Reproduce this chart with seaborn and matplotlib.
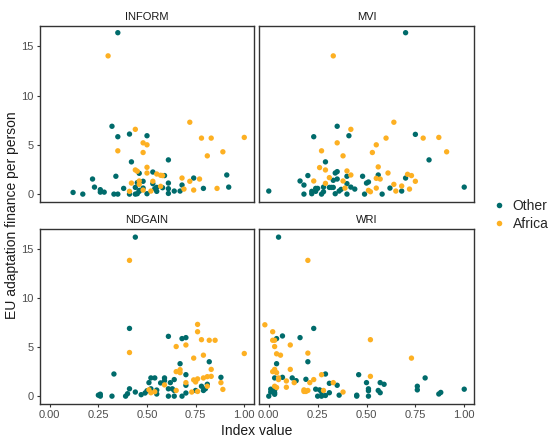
import matplotlib
matplotlib.use('Agg')
import matplotlib.pyplot as plt
from matplotlib.lines import Line2D
import seaborn as sns
import pandas as pd

sns.set_style('white')
plt.rcParams['font.family'] = ['Liberation Sans', 'DejaVu Sans']

# values, one pair of lists per panel and group
inform_other_x = [0.35, 0.32, 0.35, 0.41, 0.50, 0.61, 0.42, 0.46, 0.53, 0.59, 0.34, 0.22,
                  0.74, 0.91, 0.48, 0.45, 0.53, 0.61, 0.68, 0.23, 0.26, 0.26, 0.28, 0.38,
                  0.44, 0.48, 0.54, 0.55, 0.58, 0.61, 0.79, 0.92, 0.46, 0.55, 0.61, 0.64,
                  0.67, 0.12, 0.17, 0.33, 0.35, 0.41, 0.44, 0.45, 0.50, 0.46]
inform_other_y = [16.37, 6.88, 5.82, 6.09, 5.92, 3.47, 3.27, 2.11, 2.24, 1.88, 1.81, 1.53,
                  1.63, 1.94, 1.30, 1.16, 1.06, 1.12, 0.92, 0.71, 0.45, 0.20, 0.20, 0.58,
                  0.68, 0.61, 0.55, 0.68, 0.65, 0.55, 0.58, 0.71, 0.28, 0.28, 0.07, 0.31,
                  0.31, 0.17, 0.0, 0.0, 0.0, 0.0, 0.0, 0.04, 0.04, 0.38]
inform_africa_x = [0.30, 0.44, 0.72, 0.48, 0.50, 0.78, 0.83, 1.00, 0.35, 0.48, 0.81, 0.89,
                   0.50, 0.44, 0.45, 0.50, 0.55, 0.57, 0.58, 0.68, 0.77, 0.42, 0.46, 0.46,
                   0.53, 0.72, 0.57, 0.69, 0.86, 0.74, 0.41, 0.48, 0.52]
inform_africa_y = [14.02, 6.57, 7.29, 5.20, 5.00, 5.68, 5.68, 5.75, 4.39, 4.22, 3.88, 4.29,
                   2.72, 2.45, 2.32, 2.14, 2.04, 1.91, 1.88, 1.63, 1.53, 1.12, 1.33, 0.99,
                   1.30, 1.30, 0.79, 0.51, 0.58, 0.41, 0.28, 0.41, 0.31]

mvi_other_x = [0.70, 0.35, 0.23, 0.41, 0.75, 0.82, 0.29, 0.35, 0.34, 0.20, 0.40, 0.48,
               0.56, 0.70, 0.35, 0.33, 0.16, 0.40, 0.50, 0.51, 0.18, 0.28, 0.31, 0.32,
               0.33, 0.42, 0.44, 0.24, 0.25, 0.62, 1.00, 0.00, 0.22, 0.24, 0.28, 0.36,
               0.37, 0.68, 0.18, 0.22, 0.27, 0.34, 0.40, 0.49, 0.58]
mvi_other_y = [16.37, 6.88, 5.82, 5.92, 6.06, 3.47, 3.27, 2.28, 2.14, 1.88, 1.81, 1.81,
               1.94, 1.63, 1.53, 1.40, 1.33, 1.06, 1.12, 1.23, 0.92, 0.71, 0.68, 0.68,
               0.68, 0.71, 0.51, 0.58, 0.58, 0.61, 0.71, 0.31, 0.28, 0.28, 0.24, 0.31,
               0.48, 0.31, 0.0, 0.04, 0.0, 0.04, 0.0, 0.0, 0.0]
mvi_africa_x = [0.33, 0.42, 0.64, 0.35, 0.55, 0.60, 0.79, 0.87, 0.27, 0.53, 0.38, 0.91,
                0.56, 0.26, 0.29, 0.40, 0.61, 0.71, 0.73, 0.42, 0.31, 0.55, 0.57, 0.23,
                0.38, 0.75, 0.29, 0.64, 0.68, 0.39, 0.55, 0.72, 0.51, 0.52, 0.65]
mvi_africa_y = [14.02, 6.57, 7.29, 5.20, 5.00, 5.68, 5.68, 5.75, 4.39, 4.22, 3.88, 4.29,
                2.76, 2.69, 2.45, 2.35, 2.14, 2.01, 1.88, 1.94, 1.67, 1.60, 1.53, 1.33,
                1.33, 1.30, 1.09, 0.99, 0.82, 0.61, 0.61, 0.51, 0.38, 0.24, 0.31]

ndgain_other_x = [0.44, 0.41, 0.61, 0.68, 0.70, 0.82, 0.67, 0.33, 0.70, 0.52, 0.54, 0.59,
                  0.88, 0.64, 0.51, 0.57, 0.59, 0.62, 0.81, 0.78, 0.70, 0.63, 0.61, 0.41,
                  0.52, 0.50, 0.55, 0.55, 0.44, 0.47, 0.49, 0.40, 0.39, 0.25, 0.26, 0.26,
                  0.32, 0.61, 0.64, 0.68, 0.70, 0.75, 0.79, 0.80, 0.51, 0.64]
ndgain_other_y = [16.22, 6.91, 6.10, 5.87, 5.97, 3.51, 3.31, 2.26, 2.19, 1.86, 1.86, 1.86,
                  1.92, 1.69, 1.38, 1.35, 1.58, 1.38, 1.21, 1.01, 1.11, 0.75, 0.75, 0.75,
                  0.75, 0.55, 0.62, 0.22, 0.42, 0.15, 0.32, 0.25, 0.0, 0.10, 0.20, 0.0,
                  0.0, 0.0, 0.0, 0.0, 0.32, 0.58, 0.58, 0.75, 0.58, 0.58]
ndgain_africa_x = [0.41, 0.76, 0.76, 0.78, 0.82, 0.85, 0.65, 0.70, 0.41, 1.00, 0.79, 0.74,
                   0.83, 0.67, 0.65, 0.67, 0.81, 0.83, 0.79, 0.74, 0.76, 0.59, 0.70, 0.75,
                   0.88, 0.81, 0.65, 0.51, 0.52, 0.54, 0.73, 0.76, 0.89]
ndgain_africa_y = [13.85, 7.32, 6.57, 5.76, 5.70, 5.70, 5.06, 5.22, 4.45, 4.35, 4.18, 3.88,
                   2.73, 2.70, 2.50, 2.40, 1.99, 2.02, 1.86, 1.66, 1.76, 1.15, 1.38, 1.45,
                   1.38, 1.01, 0.58, 0.65, 0.35, 0.45, 0.42, 0.48, 0.69]

wri_other_x = [0.05, 0.23, 0.07, 0.04, 0.16, 0.20, 0.04, 0.29, 0.46, 0.80, 0.07, 0.12,
               0.03, 0.14, 0.19, 0.31, 0.35, 0.50, 0.57, 0.59, 0.76, 0.76, 0.51, 0.51,
               0.56, 0.57, 1.00, 0.88, 0.87, 0.01, 0.03, 0.01, 0.03, 0.03, 0.00, 0.24,
               0.26, 0.27, 0.31, 0.25, 0.27, 0.29, 0.36, 0.45, 0.45, 0.51]
wri_other_y = [16.22, 6.91, 6.14, 5.87, 5.97, 3.51, 3.31, 2.26, 2.19, 1.86, 1.92, 1.86,
               1.86, 1.58, 1.72, 1.31, 1.11, 1.38, 1.38, 1.21, 1.01, 0.64, 0.75, 0.55,
               0.58, 0.35, 0.71, 0.38, 0.22, 0.71, 0.62, 0.42, 0.19, 0.35, 0.0, 0.71,
               0.64, 0.42, 0.35, 0.0, 0.0, 0.07, 0.10, 0.10, 0.0, 0.0]
wri_africa_x = [0.20, -0.02, 0.02, 0.02, 0.03, 0.52, 0.03, 0.11, 0.04, 0.06, 0.20, 0.73,
                0.03, 0.02, 0.04, 0.11, 0.27, 0.52, 0.05, 0.05, 0.23, 0.09, 0.13, 0.21,
                0.33, 0.03, 0.09, 0.04, 0.18, 0.19, 0.20, 0.18, 0.28, 0.38]
wri_africa_y = [13.85, 7.28, 6.57, 5.70, 5.70, 5.76, 5.06, 5.22, 4.32, 4.18, 4.39, 3.88,
                2.73, 2.50, 2.40, 2.73, 2.19, 2.02, 1.86, 1.69, 1.69, 1.55, 1.38, 1.38,
                1.38, 1.01, 0.91, 0.88, 0.64, 0.48, 0.58, 0.48, 0.58, 0.42]

panels = ['INFORM', 'MVI', 'NDGAIN', 'WRI']
groups = ['Other', 'Africa']
colors = {'Other': '#006b6b', 'Africa': '#fdb022'}
x_ticks = [0.0, 0.25, 0.5, 0.75, 1.0]
x_tick_labels = ['0.00', '0.25', '0.50', '0.75', '1.00']
y_ticks = [0, 5, 10, 15]

series = {
    'INFORM': (inform_other_x, inform_other_y, inform_africa_x, inform_africa_y),
    'MVI': (mvi_other_x, mvi_other_y, mvi_africa_x, mvi_africa_y),
    'NDGAIN': (ndgain_other_x, ndgain_other_y, ndgain_africa_x, ndgain_africa_y),
    'WRI': (wri_other_x, wri_other_y, wri_africa_x, wri_africa_y),
}

frames = []
for p in panels:
    ox, oy, ax_, ay = series[p]
    frames.append(pd.DataFrame({'index': p, 'x': ox, 'y': oy, 'region': 'Other'}))
    frames.append(pd.DataFrame({'index': p, 'x': ax_, 'y': ay, 'region': 'Africa'}))
data = pd.concat(frames, ignore_index=True)

W, H = 560, 445
fig = plt.figure(figsize=(W / 100, H / 100), dpi=100)

# panel boxes in pixels: left, top, right, bottom
boxes = {
    'INFORM': (40, 26, 254, 202),
    'MVI': (259, 26, 474, 202),
    'NDGAIN': (40, 229, 254, 404),
    'WRI': (259, 229, 474, 404),
}

for i, p in enumerate(panels):
    l, t, r, b = boxes[p]
    ax = fig.add_axes([l / W, 1 - b / H, (r - l) / W, (b - t) / H])
    sns.scatterplot(data=data[data['index'] == p], x='x', y='y', hue='region',
                    hue_order=groups, palette=colors, s=15, linewidth=0,
                    legend=False, ax=ax)
    ax.set_xlim(-0.05, 1.05)
    ax.set_ylim(-0.8, 17.05)
    ax.set_xlabel('')
    ax.set_ylabel('')
    ax.set_title(p, fontsize=8, color='#1a1a1a', pad=4)
    for s in ax.spines.values():
        s.set_color('#333333')
        s.set_linewidth(1.0)
    ax.set_xticks(x_ticks)
    ax.set_yticks(y_ticks)
    ax.tick_params(length=2.5, width=0.8, color='#333333', labelsize=8,
                   labelcolor='#4d4d4d', pad=2)
    if i < 2:
        ax.tick_params(axis='x', bottom=False, labelbottom=False)
    else:
        ax.tick_params(axis='x', bottom=True)
        ax.set_xticklabels(x_tick_labels)
    if i % 2 == 1:
        ax.tick_params(axis='y', left=False, labelleft=False)
    else:
        ax.tick_params(axis='y', left=True)

fig.text(12 / W, 1 - 215 / H, 'EU adaptation finance per person', rotation=90,
         ha='center', va='center', fontsize=10, color='#1a1a1a')
fig.text(257 / W, 1 - 431 / H, 'Index value', ha='center', va='center',
         fontsize=10, color='#1a1a1a')

handles = [Line2D([0], [0], marker='o', linestyle='', markersize=4,
                  markerfacecolor=colors[g], markeredgewidth=0) for g in groups]
fig.legend(handles, groups, loc='center left', bbox_to_anchor=(492 / W, 1 - 215 / H),
           frameon=False, fontsize=10, handlelength=1.0, handletextpad=0.5,
           labelspacing=0.3, borderpad=0, borderaxespad=0)

fig.savefig('out.png', dpi=100)
